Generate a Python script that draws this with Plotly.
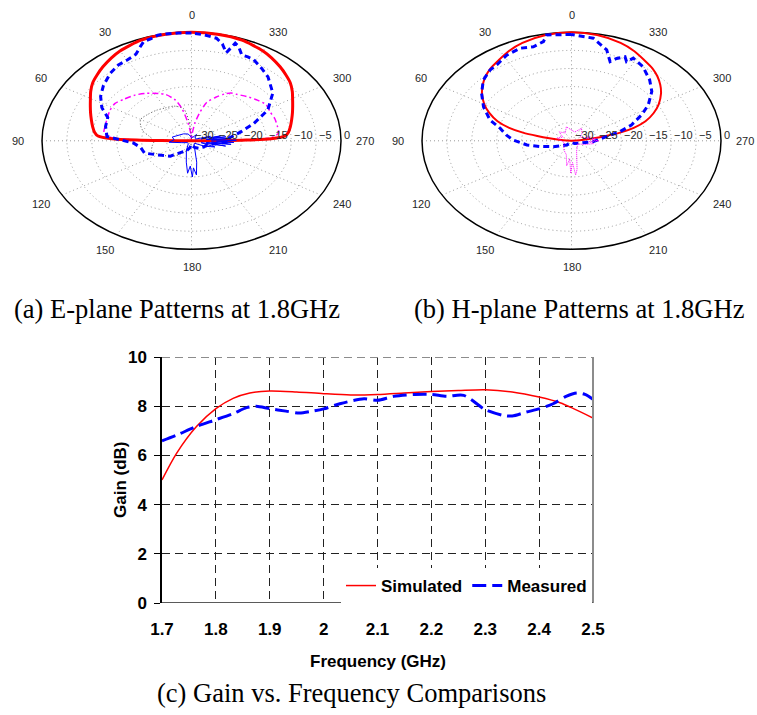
import numpy as np
import plotly.graph_objects as go

# ---------------- data ----------------
# E-plane (a) at 1.8 GHz : angle (deg, counter-clockwise from top) and level (dB)
E_SIM_CO_THETA = [0, 10, 20, 30, 35, 41, 46, 51, 56, 61, 65, 69, 74, 79, 83, 86, 88, 89, 89.5, 90,
                  180, 270, 270.5, 271, 272, 274, 277, 281, 286, 291, 295, 299, 304, 309, 314, 319,
                  325, 330, 340, 350, 360]
E_SIM_CO_DB = [0, -0.1, -0.4, -1.3, -2.0, -2.9, -3.7, -4.5, -5.6, -6.8, -7.6, -8.3, -9.1, -9.8, -10.4,
               -11.2, -14, -19, -24, -30,
               -30, -30, -24, -19, -14, -11.2, -10.4, -9.8, -9.1, -8.3, -7.6, -6.8, -5.6, -4.5, -3.7,
               -2.9, -2.0, -1.3, -0.4, -0.1, 0]

E_MEAS_CO_THETA = [0, 5, 10, 13, 16, 19.4, 21.7, 25, 30, 35, 41, 49, 56, 63, 69, 77, 86, 93, 100, 110,
                   124, 135, 148, 160, 170, 180, 190, 200, 215, 235, 250, 260, 267, 276, 284, 291, 299,
                   309, 319, 325, 331, 334, 337, 340, 342, 344, 347, 350, 355, 360]
E_MEAS_CO_DB = [-0.2, -0.1, 0, 0, -0.6, -1, -2.1, -3.6, -4.2, -4.4, -5.2, -6.6, -8, -9.8, -12, -12.3,
                -13, -18.3, -19.6, -20, -22.8, -24, -26.3, -27, -28, -29, -28.5, -28, -27.5, -27, -26.7,
                -25, -22.6, -22.4, -19.8, -16.6, -12.5, -9, -6.6, -5.5, -4.3, -4.2, -4.2, -2.3, -1.6,
                -4.7, -2.5, -1.2, -0.6, -0.2]

E_MEAS_X_THETA = [0, 20, 40, 60, 75, 85, 95, 105, 120, 140, 160, 170, 175, 178, 181, 183, 186, 190, 195,
                  200, 210, 225, 240, 250, 255, 258, 261, 263, 265, 267, 269, 271, 273, 275, 277, 279,
                  281, 283, 285, 288, 292, 300, 315, 330, 345, 360]
E_MEAS_X_DB = [-29, -28, -27.5, -27, -26, -26.5, -25.5, -28, -29, -29, -27, -24, -21, -23, -20, -22.5,
               -20.5, -24, -27, -28, -29, -29, -27, -25, -28, -23, -27, -22, -26, -21.5, -25, -21, -26,
               -22.5, -27, -23, -26, -24, -28, -26, -28.5, -29, -29, -28, -29, -29]

E_SIM_X_THETA = [0, 4, 8, 12, 16, 22, 27, 35, 42, 50, 56, 63, 70, 77, 83, 87, 89, 90, 180, 270, 271,
                 273, 277, 283, 290, 297, 304, 310, 318, 325, 329, 333, 338, 344, 348, 352, 356, 360]
E_SIM_X_DB = [-30, -28, -25, -21, -18.3, -16.2, -15.3, -14, -13, -12.2, -11.5, -11.6, -12, -12.2, -12.3,
              -14, -20, -30, -30, -30, -20, -14, -12.4, -12.3, -12.2, -12.3, -12, -12.6, -13.5, -14.3,
              -14.6, -15.5, -17, -19, -22, -25, -28, -30]

E_OTHER_THETA = [0, 5, 10, 20, 30, 40, 50, 60, 68, 75, 82, 90, 100, 110, 125, 140, 155, 170, 180]
E_OTHER_DB = [-30, -25, -21, -19.8, -19.5, -19, -18.6, -18.2, -19, -20, -21.5, -22.5, -22, -21.5, -23,
              -24.5, -26.5, -28.5, -30]

# H-plane (b) at 1.8 GHz
H_SIM_CO_THETA = [0, 10, 20, 27, 33, 39, 44, 49, 54, 60, 65, 70, 74, 77, 79, 81, 83, 86, 90, 180,
                  270, 274, 277, 279, 281, 283, 286, 290, 295, 300, 306, 311, 316, 321, 327, 333, 340,
                  350, 360]
H_SIM_CO_DB = [0, -0.3, -1.2, -2.2, -3.3, -4.2, -5.2, -6.4, -7.8, -9.8, -11.8, -14.2, -17, -20, -23,
               -25.5, -27.5, -29, -30, -30,
               -30, -29, -27.5, -25.5, -23, -20, -17, -14.2, -11.8, -9.8, -7.8, -6.4, -5.2, -4.2, -3.3,
               -2.2, -1.2, -0.3, 0]

H_MEAS_CO_THETA = [0, 4.5, 9.7, 11.6, 16.4, 22, 28.8, 35.5, 39.9, 46.5, 54, 62, 70.8, 76.5, 83, 89,
                   97.4, 104, 114, 140, 180, 220, 248, 267, 279.2, 284.5, 290, 297, 302.7, 310.2, 317,
                   325, 331.5, 333.2, 335.2, 338.3, 340.5, 344.3, 351.2, 360]
H_MEAS_CO_DB = [-0.6, -0.6, -0.3, -2, -2.9, -2.4, -3, -4.2, -4.5, -5.6, -7.7, -10, -12.7, -15.3, -16.8,
                -18.3, -21, -23.5, -26, -28.5, -29.5, -29, -28.2, -25.6, -22.9, -20, -17.2, -14.2, -11.7,
                -8.9, -7, -5, -4, -5.5, -4.4, -5.5, -6.8, -3.9, -1.3, -0.6]

H_MEAS_X_THETA = [0, 15, 30, 45, 60, 75, 90, 110, 130, 150, 165, 172, 176, 179, 182, 185, 188, 191, 195,
                  200, 215, 235, 250, 260, 266, 270, 274, 278, 282, 286, 290, 300, 315, 330, 345, 360]
H_MEAS_X_DB = [-27, -26, -27.5, -26.5, -28, -27, -28, -28.5, -28, -27, -26, -23, -25, -21, -24, -20.5,
               -22, -24.5, -26, -27, -28, -28.5, -27, -25.5, -26.5, -24.5, -26, -25, -27, -26, -27.5,
               -28, -27, -26, -27.5, -27]

ANGLE_TICKS = [0, 30, 60, 90, 120, 150, 180, 210, 240, 270, 300, 330]
RADIAL_TICKS = [-30, -25, -20, -15, -10, -5, 0]
RADIAL_TICK_LABELS = ["\u221230", "\u221225", "\u221220", "\u221215", "\u221210", "\u22125", "0"]

# Gain vs frequency (c)
FREQ_SIM = [1.7, 1.727, 1.764, 1.8, 1.832, 1.863, 1.9, 1.95, 2.0, 2.05, 2.1, 2.15, 2.2, 2.25, 2.3,
            2.35, 2.4, 2.44, 2.46, 2.5]
GAIN_SIM = [5.0, 6.08, 7.17, 7.9, 8.32, 8.54, 8.62, 8.58, 8.51, 8.46, 8.48, 8.54, 8.6, 8.64, 8.67,
            8.58, 8.37, 8.13, 7.94, 7.52]
FREQ_MEAS = [1.7, 1.727, 1.764, 1.8, 1.832, 1.857, 1.875, 1.9, 1.93, 1.955, 1.98, 2.0, 2.03, 2.075,
             2.1, 2.13, 2.17, 2.2, 2.228, 2.26, 2.3, 2.333, 2.35, 2.376, 2.4, 2.426, 2.45, 2.47, 2.485, 2.5]
GAIN_MEAS = [6.59, 6.82, 7.18, 7.45, 7.7, 7.94, 8.0, 7.9, 7.8, 7.72, 7.8, 7.89, 8.1, 8.3, 8.24, 8.4,
             8.48, 8.48, 8.4, 8.44, 7.86, 7.63, 7.6, 7.76, 7.89, 8.1, 8.4, 8.54, 8.48, 8.28]
FREQ_TICKS = [1.7, 1.8, 1.9, 2.0, 2.1, 2.2, 2.3, 2.4, 2.5]
FREQ_TICK_LABELS = ["1.7", "1.8", "1.9", "2", "2.1", "2.2", "2.3", "2.4", "2.5"]
GAIN_TICKS = [0, 2, 4, 6, 8, 10]

# ---------------- helpers ----------------
R_MIN, R_MAX = -30.0, 0.0


def polar_xy(theta_deg, r_db):
    t = np.deg2rad(np.asarray(theta_deg, dtype=float))
    rho = (np.clip(np.asarray(r_db, dtype=float), R_MIN, R_MAX) - R_MIN) / (R_MAX - R_MIN)
    return -rho * np.sin(t), rho * np.cos(t)


SANS = "Liberation Sans, Arial, sans-serif"
SERIF = "Liberation Serif, Times New Roman, serif"

fig = go.Figure()


def add_frame(xa, ya):
    for rt in RADIAL_TICKS[1:-1]:
        rho = (rt - R_MIN) / (R_MAX - R_MIN)
        fig.add_shape(type="circle", xref=xa, yref=ya, x0=-rho, x1=rho, y0=-rho, y1=rho,
                      line=dict(color="#999999", width=1, dash="1px,3px"), layer="below")
    for a in ANGLE_TICKS[:6]:
        x1, y1 = polar_xy([a], [R_MAX])
        x2, y2 = polar_xy([a + 180], [R_MAX])
        fig.add_shape(type="line", xref=xa, yref=ya, x0=float(x1[0]), y0=float(y1[0]),
                      x1=float(x2[0]), y1=float(y2[0]),
                      line=dict(color="#999999", width=1, dash="1px,3px"), layer="below")
    fig.add_shape(type="circle", xref=xa, yref=ya, x0=-1, x1=1, y0=-1, y1=1,
                  line=dict(color="black", width=1.5), layer="below")
    for a in ANGLE_TICKS:
        t = np.deg2rad(a)
        fig.add_annotation(xref=xa, yref=ya, x=-1.16 * np.sin(t), y=1.16 * np.cos(t), text=str(a),
                           showarrow=False, xanchor="center", yanchor="middle",
                           font=dict(family=SANS, size=11, color="#262626"))
    for rt, lab in zip(RADIAL_TICKS, RADIAL_TICK_LABELS):
        rho = (rt - R_MIN) / (R_MAX - R_MIN)
        fig.add_annotation(xref=xa, yref=ya, x=rho, y=0.055, text=lab, showarrow=False,
                           xanchor="left", yanchor="middle", xshift=1,
                           font=dict(family=SANS, size=11, color="#262626"))


def add_pattern(theta, db, xa, ya, color, width, dash="solid", shape="linear"):
    x, y = polar_xy(theta, db)
    fig.add_trace(go.Scatter(x=x, y=y, xaxis=xa, yaxis=ya, mode="lines", showlegend=False,
                             hoverinfo="skip",
                             line=dict(color=color, width=width, dash=dash, shape=shape,
                                       smoothing=0.7 if shape == "spline" else None)))


# panel (a)
add_frame("x2", "y2")
add_pattern(E_SIM_X_THETA, E_SIM_X_DB, "x2", "y2", "#ff00ff", 1.5, "6px,3px,2px,3px", "spline")
add_pattern(E_OTHER_THETA, E_OTHER_DB, "x2", "y2", "#555555", 1, "1px,2px", "spline")
add_pattern(E_SIM_CO_THETA, E_SIM_CO_DB, "x2", "y2", "#ff0000", 3, "solid", "spline")
add_pattern(E_MEAS_CO_THETA, E_MEAS_CO_DB, "x2", "y2", "#0000ff", 3, "6px,4px")
add_pattern(E_MEAS_X_THETA, E_MEAS_X_DB, "x2", "y2", "#0000ff", 1)

# panel (b)
add_frame("x3", "y3")
add_pattern(H_SIM_CO_THETA, H_SIM_CO_DB, "x3", "y3", "#ff0000", 2, "solid", "spline")
add_pattern(H_MEAS_CO_THETA, H_MEAS_CO_DB, "x3", "y3", "#0000ff", 3, "6px,4px")
add_pattern(H_MEAS_X_THETA, H_MEAS_X_DB, "x3", "y3", "#ff00ff", 1, "1px,1px")

# panel (c)
fig.add_trace(go.Scatter(x=FREQ_SIM, y=GAIN_SIM, mode="lines", name="Simulated",
                         line=dict(color="#ff0000", width=1.5, shape="spline", smoothing=0.8)))
fig.add_trace(go.Scatter(x=FREQ_MEAS, y=GAIN_MEAS, mode="lines", name="Measured",
                         line=dict(color="#0000ff", width=3, dash="14px,6px", shape="spline",
                                   smoothing=0.8)))

fig.add_shape(type="line", xref="x domain", yref="y", x0=0, x1=1, y0=10, y1=10,
              line=dict(color="#8c8c8c", width=2, dash="8px,5px"))
fig.add_shape(type="line", xref="x domain", yref="y domain", x0=1, x1=1, y0=0, y1=1,
              line=dict(color="#8c8c8c", width=2))
fig.add_shape(type="line", xref="x domain", yref="y", x0=0, x1=1, y0=0, y1=0,
              line=dict(color="#5a5a5a", width=2))

W, H = 757, 715
PANEL_X_R, PANEL_Y_R = 1.24, 1.28
RX, RY, CY = 149.5, 108.5, 140.8


def xdom(cx):
    return [(cx - PANEL_X_R * RX) / W, (cx + PANEL_X_R * RX) / W]


ydom = [1 - (CY + PANEL_Y_R * RY) / H, 1 - (CY - PANEL_Y_R * RY) / H]
hidden = dict(visible=False, fixedrange=True, showgrid=False, zeroline=False)

tickfont = dict(family=SANS, size=17, color="black", weight="bold")
fig.update_layout(
    width=W, height=H, margin=dict(l=0, r=0, t=0, b=0, autoexpand=False),
    paper_bgcolor="white", plot_bgcolor="white",
    xaxis=dict(domain=[162 / W, 593 / W], range=[1.7, 2.5], tickvals=FREQ_TICKS,
               ticktext=FREQ_TICK_LABELS, showgrid=True, gridcolor="#222222", gridwidth=1,
               griddash="8px,5px", showline=False, ticks="",
               zeroline=False, tickfont=tickfont, ticklabelstandoff=14, anchor="y", fixedrange=True,
               automargin=False),
    yaxis=dict(domain=[1 - 603 / H, 1 - 357 / H], range=[0, 10], tickvals=GAIN_TICKS,
               showgrid=True, gridcolor="#222222", gridwidth=1, griddash="8px,5px",
               showline=True, linecolor="black", linewidth=1.5, ticks="outside", ticklen=6,
               tickcolor="black", zeroline=False, tickfont=tickfont, ticklabelstandoff=4,
               anchor="x", fixedrange=True, automargin=False),
    xaxis2=dict(domain=xdom(191.5), range=[-PANEL_X_R, PANEL_X_R], anchor="y2", **hidden),
    yaxis2=dict(domain=ydom, range=[-PANEL_Y_R, PANEL_Y_R], anchor="x2", **hidden),
    xaxis3=dict(domain=xdom(571.5), range=[-PANEL_X_R, PANEL_X_R], anchor="y3", **hidden),
    yaxis3=dict(domain=ydom, range=[-PANEL_Y_R, PANEL_Y_R], anchor="x3", **hidden),
    legend=dict(orientation="h", x=592 / W, xanchor="right", y=1 - 586 / H, yanchor="middle",
                bgcolor="white", borderwidth=0, font=dict(family=SANS, size=17, color="black",
                                                          weight="bold"),
                itemwidth=30, tracegroupgap=0),
)


def paper_text(x, y, text, font, xanchor="center", angle=0):
    fig.add_annotation(xref="paper", yref="paper", x=x / W, y=1 - y / H, text=text, showarrow=False,
                       xanchor=xanchor, yanchor="middle", textangle=angle, font=font)


bold = dict(family=SANS, size=17, color="black")
serif = dict(family=SERIF, size=26.5, color="black")
paper_text(378, 661, "<b>Frequency (GHz)</b>", bold)
paper_text(120, 480, "<b>Gain (dB)</b>", bold, angle=-90)
paper_text(12, 309, "(a) E-plane Patterns at 1.8GHz", serif, xanchor="left")
paper_text(412, 309, "(b) H-plane Patterns at 1.8GHz", serif, xanchor="left")
paper_text(351.5, 693, "(c) Gain vs. Frequency Comparisons", serif)

fig.write_html("out.html", config={"displayModeBar": False},
               post_script="document.body.style.margin='0px';")
